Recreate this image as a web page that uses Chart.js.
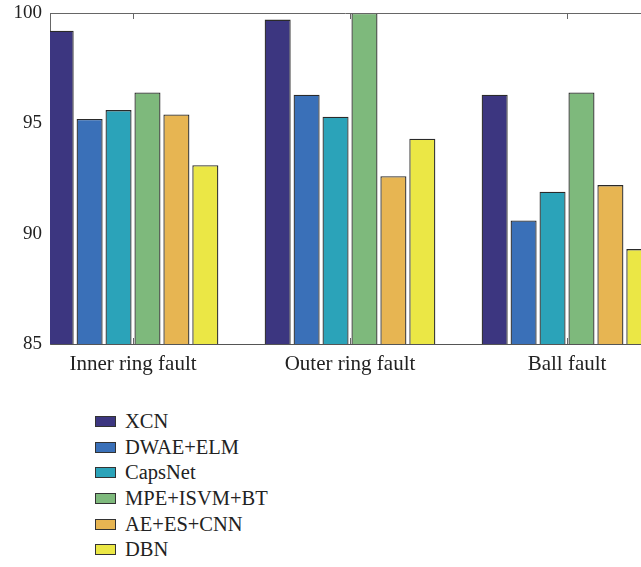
<!DOCTYPE html>
<html>
<head>
<meta charset="utf-8">
<script src="https://cdn.jsdelivr.net/npm/chart.js@4/dist/chart.umd.min.js"></script>
<style>
  html, body { margin: 0; padding: 0; background: #fff; overflow: hidden; }
  #wrap { position: relative; width: 641px; height: 567px; }
  #chartBox { position: absolute; left: 0; top: 0; width: 641px; height: 380px; }
  #legend { position: absolute; left: 95px; top: 409px; font-family: "Liberation Serif", serif; font-size: 20.5px; color: #222; }
  #legend .item { display: flex; align-items: center; height: 25.6px; }
  #legend .box { width: 19px; height: 9px; border: 1px solid #333; margin-right: 9px; }
</style>
</head>
<body>
<div id="wrap">
  <div id="chartBox"><canvas id="myChart"></canvas></div>
  <div id="legend"></div>
</div>
<script>
'use strict';

let categories = ['Inner ring fault', 'Outer ring fault', 'Ball fault'];
let methods = ['XCN', 'DWAE+ELM', 'CapsNet', 'MPE+ISVM+BT', 'AE+ES+CNN', 'DBN'];

// accuracy per method, one value per fault type
let xcn = [99.2, 99.7, 96.3];
let dwaeElm = [95.2, 96.3, 90.6];
let capsNet = [95.6, 95.3, 91.9];
let mpeIsvm = [96.4, 100, 96.4];
let aeEsCnn = [95.4, 92.6, 92.2];
let dbn = [93.1, 94.3, 89.3];

let yTicks = [85, 90, 95, 100];

let colors = ['#3c3680', '#3a70b8', '#2ba3b9', '#7eb97c', '#e7b552', '#ebe745'];
let series = [xcn, dwaeElm, capsNet, mpeIsvm, aeEsCnn, dbn];

let datasets = [];
for (let i = 0; i < methods.length; i++) {
    datasets.push({
        label: methods[i],
        data: series[i].map((v, j) => ({ x: j + 1, y: v })),
        backgroundColor: colors[i],
        borderColor: '#2a2a2a',
        borderWidth: 1.3,
        borderSkipped: false
    });
}

// matlab style box: top line and inward ticks at each group
let frame = {
    id: 'frame',
    afterDraw(chart) {
        let ctx = chart.ctx;
        let a = chart.chartArea;
        let xs = chart.scales.x;
        ctx.save();
        ctx.strokeStyle = '#666';
        ctx.lineWidth = 1;
        ctx.beginPath();
        ctx.moveTo(a.left, a.top + 0.5);
        ctx.lineTo(a.right, a.top + 0.5);
        for (let i = 0; i < categories.length; i++) {
            let px = Math.round(xs.getPixelForValue(i + 1)) + 0.5;
            ctx.moveTo(px, a.top);
            ctx.lineTo(px, a.top + 6);
            ctx.moveTo(px, a.bottom);
            ctx.lineTo(px, a.bottom - 6);
        }
        ctx.stroke();
        ctx.restore();
    }
};

function buildLegend(chart) {
    let legendEl = document.getElementById('legend');
    legendEl.innerHTML = '';
    chart.data.datasets.forEach(ds => {
        let item = document.createElement('div');
        item.className = 'item';
        let box = document.createElement('span');
        box.className = 'box';
        box.style.background = ds.backgroundColor;
        let txt = document.createElement('span');
        txt.textContent = ds.label;
        item.appendChild(box);
        item.appendChild(txt);
        legendEl.appendChild(item);
    });
}

let ctx = document.getElementById('myChart').getContext('2d');
let myChart = new Chart(ctx, {
    type: 'bar',
    data: { datasets: datasets },
    options: {
        responsive: true,
        maintainAspectRatio: false,
        animation: false,
        layout: { padding: { top: 13, left: 0, right: 0, bottom: 0 } },
        plugins: {
            legend: { display: false },
            tooltip: { enabled: false }
        },
        scales: {
            x: {
                type: 'linear',
                offset: false,
                min: 0.6175,
                max: 3.341,
                afterBuildTicks: (scale) => {
                    scale.ticks = categories.map((c, i) => ({ value: i + 1 }));
                },
                afterFit: (scale) => { scale.height = 36; },
                ticks: {
                    callback: (v) => categories[v - 1],
                    autoSkip: false,
                    maxRotation: 0,
                    padding: 8,
                    color: '#222',
                    font: { family: 'Liberation Serif', size: 21 }
                },
                grid: { offset: false, drawOnChartArea: false, drawTicks: false },
                border: { display: true, color: '#555', width: 1 }
            },
            y: {
                min: 85,
                max: 100,
                afterBuildTicks: (scale) => {
                    scale.ticks = yTicks.map(v => ({ value: v }));
                },
                afterFit: (scale) => {
                    scale.width = 50;
                    scale.paddingTop = 0;
                    scale.paddingBottom = 0;
                },
                ticks: {
                    padding: 8,
                    color: '#222',
                    font: { family: 'Liberation Serif', size: 19 }
                },
                grid: { drawOnChartArea: false, drawTicks: false },
                border: { display: true, color: '#666', width: 1 }
            }
        }
    },
    plugins: [frame]
});

buildLegend(myChart);
</script>
</body>
</html>
